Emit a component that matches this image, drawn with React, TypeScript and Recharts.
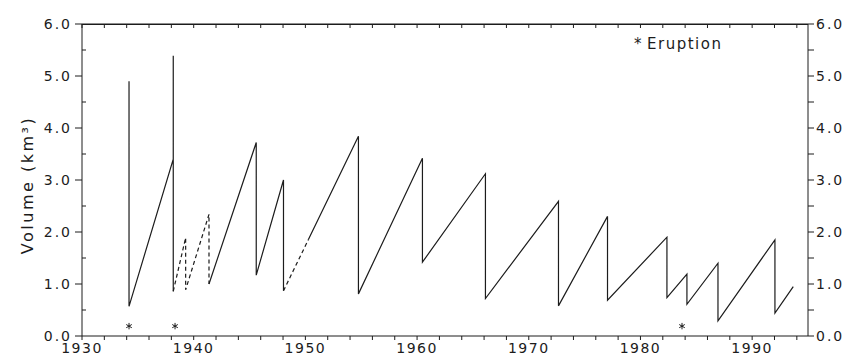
import React from 'react';
import { ComposedChart, Line, Scatter, XAxis, YAxis, ReferenceLine } from 'recharts';

// ---- data ----
const solidYears = [
  1934.21, 1934.21, 1938.17, 1938.17, 1938.17,
  1941.37,
  1941.37, 1945.6, 1945.6, 1948.04, 1948.04,
  1950.26,
  1950.26, 1954.75, 1954.75, 1960.48, 1960.48, 1966.12, 1966.12, 1972.66, 1972.66,
  1977.05, 1977.05, 1982.37, 1982.37, 1984.16, 1984.16, 1986.94, 1986.94, 1992.04,
  1992.04, 1993.68,
];
const solidVolumes = [
  4.9, 0.57, 3.4, 5.39, 0.86,
  null,
  1.0, 3.72, 1.17, 3.0, 0.87,
  null,
  1.85, 3.84, 0.81, 3.42, 1.42, 3.12, 0.72, 2.59, 0.58,
  2.3, 0.69, 1.9, 0.74, 1.19, 0.61, 1.4, 0.29, 1.85,
  0.44, 0.95,
];
const dashedYears = [1938.17, 1939.28, 1939.28, 1941.37, 1941.37, 1948.04, 1948.04, 1950.26];
const dashedVolumes = [0.86, 1.89, 0.89, 2.34, 1.0, null, 0.87, 1.85];

const eruptionYears = [1934.21, 1938.33, 1983.72];
const eruptionLevel = [0.19, 0.19, 0.19];

const yearTicks = [
  1930, 1932, 1934, 1936, 1938, 1940, 1942, 1944, 1946, 1948, 1950, 1952, 1954, 1956, 1958,
  1960, 1962, 1964, 1966, 1968, 1970, 1972, 1974, 1976, 1978, 1980, 1982, 1984, 1986, 1988,
  1990, 1992, 1994,
];
const volumeAllTicks = [0, 0.5, 1, 1.5, 2, 2.5, 3, 3.5, 4, 4.5, 5, 5.5, 6];
const YEAR_MIN = 1930;
const YEAR_MAX = 1995;
const VOLUME_MAX = 6;

const solidData = solidYears.map((year, i) => ({ year, v: solidVolumes[i] }));
const dashedData = dashedYears.map((year, i) => ({ year, v: dashedVolumes[i] }));
const eruptionData = eruptionYears.map((year, i) => ({ year, v: eruptionLevel[i] }));
const frameTopData = [
  { year: YEAR_MIN, v: VOLUME_MAX },
  { year: YEAR_MAX, v: VOLUME_MAX },
];

// ---- layout ----
const FONT = '"DejaVu Sans", Verdana, sans-serif';
const INK = '#1c1c1c';
const CHART_W = 850;
const CHART_H = 362;
const MARGIN = { top: 24, right: 0, bottom: 0, left: 22 };
const LEFT_W = 60;
const RIGHT_W = 42;
const BOTTOM_H = 26;
const PLOT_W = CHART_W - MARGIN.left - MARGIN.right - LEFT_W - RIGHT_W;
const PLOT_H = CHART_H - MARGIN.top - MARGIN.bottom - BOTTOM_H;

const LEFT_TICK = 7;
const LEFT_MARGIN = 3;
const BOTTOM_TICK = 4;
const BOTTOM_MARGIN = 3;
const MINOR_TICK = 4;

function Asterisk(props: any) {
  const { cx, cy } = props;
  const r = 3.2;
  return (
    <g stroke={INK} strokeWidth={1}>
      <line x1={cx} y1={cy - r} x2={cx} y2={cy + r} />
      <line x1={cx - r * 0.87} y1={cy - r * 0.5} x2={cx + r * 0.87} y2={cy + r * 0.5} />
      <line x1={cx - r * 0.87} y1={cy + r * 0.5} x2={cx + r * 0.87} y2={cy - r * 0.5} />
    </g>
  );
}

// Left axis: labelled integer ticks point outward, half-unit ticks point inward;
// the top value also closes the frame along the top edge.
function LeftTick(props: any) {
  const { x, y, payload } = props;
  const v = payload.value as number;
  const axisX = x + LEFT_TICK + LEFT_MARGIN;
  if (Number.isInteger(v)) {
    return (
      <g>
        <line x1={axisX - LEFT_TICK} x2={axisX} y1={y} y2={y} stroke={INK} />
        {v === VOLUME_MAX && (
          <line x1={axisX} x2={axisX + PLOT_W} y1={y + 0.5} y2={y + 0.5} stroke={INK} strokeWidth={1.2} />
        )}
        <text
          x={x}
          y={y}
          dy="0.36em"
          textAnchor="end"
          fontFamily={FONT}
          fontSize={14}
          letterSpacing={2}
          fill={INK}
        >
          {v.toFixed(1)}
        </text>
      </g>
    );
  }
  return <line x1={axisX} x2={axisX + MINOR_TICK} y1={y} y2={y} stroke={INK} />;
}

// Bottom axis: outward ticks with decade labels, plus the matching inward ticks on the top edge.
function BottomTick(props: any) {
  const { x, y, payload } = props;
  const v = payload.value as number;
  const axisY = y - BOTTOM_TICK - BOTTOM_MARGIN;
  const topY = axisY - PLOT_H;
  return (
    <g>
      <line x1={x} x2={x} y1={axisY} y2={axisY + BOTTOM_TICK} stroke={INK} />
      <line x1={x} x2={x} y1={topY} y2={topY + MINOR_TICK} stroke={INK} />
      {v % 10 === 0 && (
        <text
          x={x}
          y={y}
          dy="0.71em"
          textAnchor="middle"
          fontFamily={FONT}
          fontSize={14}
          letterSpacing={1.5}
          fill={INK}
        >
          {String(v)}
        </text>
      )}
    </g>
  );
}

function VolumeLabel(props: any) {
  const vb = props.viewBox || { x: 0, y: 0, width: 0, height: 0 };
  const x = vb.x + 11;
  const y = vb.y + vb.height / 2 + 5;
  return (
    <text
      x={x}
      y={y}
      transform={`rotate(-90 ${x} ${y})`}
      textAnchor="middle"
      fontFamily={FONT}
      fontSize={16}
      letterSpacing={2.5}
      fill={INK}
    >
      Volume (km³)
    </text>
  );
}

const tickStyleY = { fontFamily: FONT, fontSize: 14, fill: INK, letterSpacing: 2 };

export default function App() {
  return (
    <div style={{ position: 'absolute', left: 0, top: 0, width: CHART_W, height: CHART_H }}>
      <ComposedChart width={CHART_W} height={CHART_H} margin={MARGIN}>
        <XAxis
          xAxisId="xBottom"
          dataKey="year"
          type="number"
          domain={[YEAR_MIN, YEAR_MAX]}
          ticks={yearTicks}
          interval={0}
          height={BOTTOM_H}
          tickSize={BOTTOM_TICK}
          tickMargin={BOTTOM_MARGIN}
          tickLine={false}
          stroke={INK}
          tick={<BottomTick />}
          allowDataOverflow
        />
        <YAxis
          yAxisId="yLeft"
          type="number"
          domain={[0, VOLUME_MAX]}
          ticks={volumeAllTicks}
          interval={0}
          width={LEFT_W}
          tickSize={LEFT_TICK}
          tickMargin={LEFT_MARGIN}
          tickLine={false}
          stroke={INK}
          tick={<LeftTick />}
          label={<VolumeLabel />}
          allowDataOverflow
        />
        <YAxis
          yAxisId="yRight"
          orientation="right"
          type="number"
          domain={[0, VOLUME_MAX]}
          ticks={volumeAllTicks}
          interval={0}
          tickFormatter={(v: number) => (Number.isInteger(v) ? v.toFixed(1) : '')}
          width={RIGHT_W}
          tickSize={6}
          tickMargin={2}
          stroke={INK}
          tick={tickStyleY}
          allowDataOverflow
        />
        <ReferenceLine
          xAxisId="xBottom"
          yAxisId="yLeft"
          y={VOLUME_MAX}
          stroke={INK}
          strokeWidth={1.2}
          ifOverflow="visible"
        />
        <Line
          xAxisId="xBottom"
          yAxisId="yLeft"
          data={frameTopData}
          dataKey="v"
          type="linear"
          stroke={INK}
          strokeWidth={2}
          dot={false}
          activeDot={false}
          isAnimationActive={false}
          legendType="none"
        />
        <Line
          xAxisId="xBottom"
          yAxisId="yLeft"
          data={solidData}
          dataKey="v"
          type="linear"
          stroke={INK}
          strokeWidth={1.2}
          dot={false}
          activeDot={false}
          connectNulls={false}
          isAnimationActive={false}
        />
        <Line
          xAxisId="xBottom"
          yAxisId="yLeft"
          data={dashedData}
          dataKey="v"
          type="linear"
          stroke={INK}
          strokeWidth={1.2}
          strokeDasharray="4 3"
          dot={false}
          activeDot={false}
          connectNulls={false}
          isAnimationActive={false}
        />
        <Line
          xAxisId="xBottom"
          yAxisId="yRight"
          data={solidData}
          dataKey="v"
          type="linear"
          stroke="none"
          dot={false}
          activeDot={false}
          isAnimationActive={false}
          legendType="none"
        />
        <Scatter
          xAxisId="xBottom"
          yAxisId="yLeft"
          data={eruptionData}
          dataKey="v"
          shape={<Asterisk />}
          isAnimationActive={false}
        />
      </ComposedChart>
      <div
        style={{
          position: 'absolute',
          top: 35,
          left: 634,
          fontFamily: FONT,
          fontSize: 15,
          letterSpacing: 1.5,
          color: INK,
          whiteSpace: 'nowrap',
          pointerEvents: 'none',
        }}
      >
        <span style={{ marginRight: 4 }}>*</span>Eruption
      </div>
    </div>
  );
}
